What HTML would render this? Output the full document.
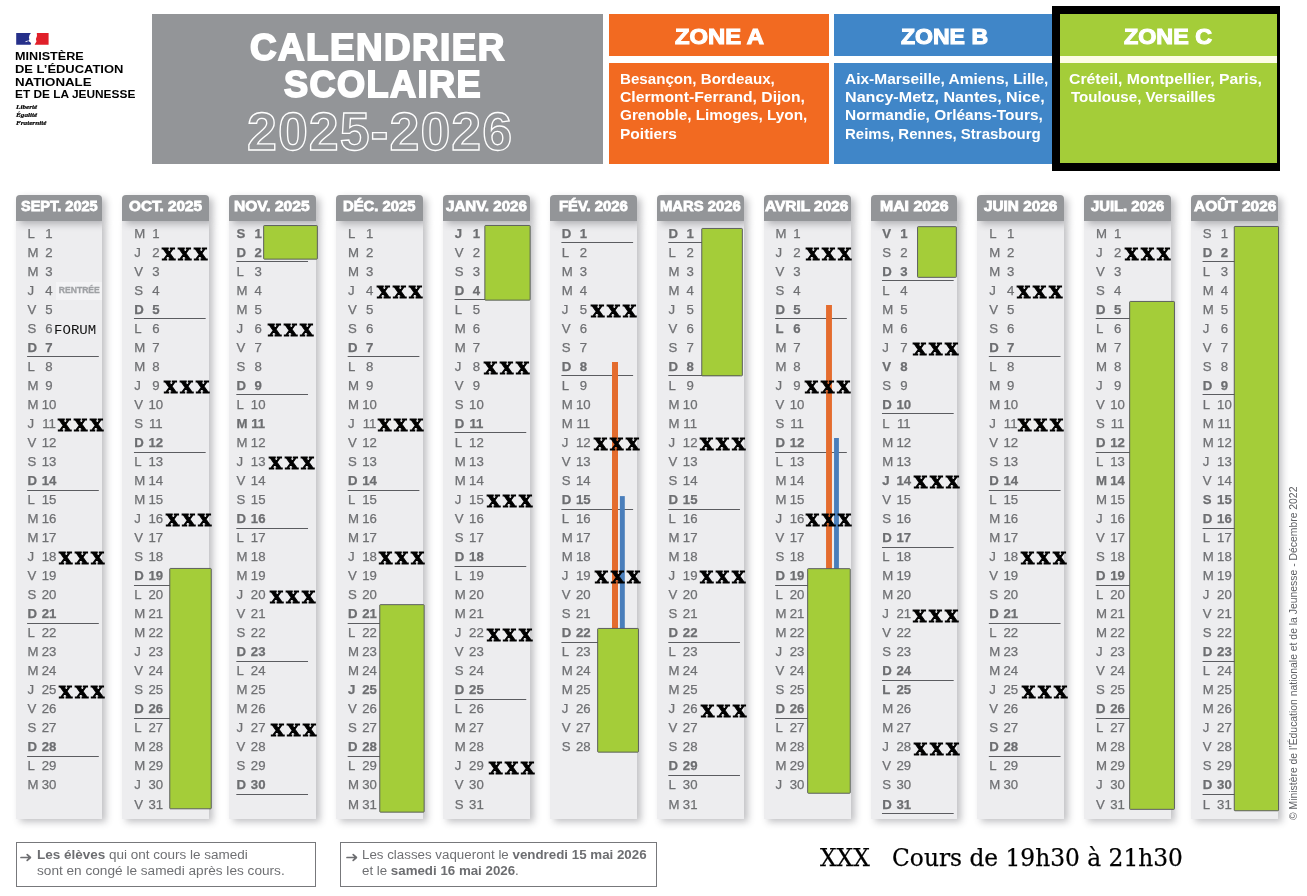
<!DOCTYPE html>
<html lang="fr"><head><meta charset="utf-8"><title>Calendrier scolaire 2025-2026</title>
<style>
html,body{margin:0;padding:0;background:#fff}
#page{position:relative;width:1307px;height:896px;overflow:hidden;background:#fff;font-family:"Liberation Sans",sans-serif}
#page *{box-sizing:border-box}
.abs,.t{position:absolute}
.t{white-space:pre;line-height:1;transform-origin:0 0;margin:0;padding:0}
.logo{font-weight:700;font-size:11.6px;color:#000}
.motto{font-family:"Liberation Serif",serif;font-style:italic;font-weight:700;color:#000;-webkit-text-stroke:.2px #000}
.title{left:152px;top:14px;width:451px;height:149.8px;background:#939598}
.ttl{font-weight:700;color:#fff;-webkit-text-stroke:1.9px #fff;letter-spacing:1.5px}
.yr{font-weight:700;color:transparent;-webkit-text-stroke:1.3px #fff;letter-spacing:1px}
.zh{font-weight:700;color:#fff;-webkit-text-stroke:1.1px #fff;font-size:22.3px}
.zb{font-weight:700;color:#fff;font-size:14.4px}
.col{position:absolute;top:0;width:86.3px;height:896px}
.hd{position:absolute;left:0;top:195px;width:86px;height:26px;background:#939598;border-radius:4px 4px 0 0;box-shadow:4px 3px 7px rgba(50,50,60,.32);z-index:2}
.bd{position:absolute;left:0;top:221px;width:86px;height:598px;background:#ededef;box-shadow:4px 3px 7px rgba(50,50,60,.3);z-index:1}
.hl{position:absolute;z-index:3;font-weight:700;color:#fff;-webkit-text-stroke:.8px #fff;font-size:13.9px;white-space:pre;line-height:1;transform-origin:0 0}
.rows{position:absolute;top:0;width:86px;height:0;z-index:3}
.r{position:absolute;left:0;width:86.3px;height:19px;z-index:3;color:#6f7073;font-size:13.2px;line-height:19px;-webkit-text-stroke:.25px #6f7073}
.r b,.r i{position:absolute;top:0;font-style:normal;font-weight:400;white-space:pre}
.r b{left:11.8px}
.r i{left:23.4px;width:20px;text-align:center}
.r.h b,.r.h i{font-weight:700;color:#6d6e71}
.nv .r{margin-left:-4.5px}
.x{position:absolute;z-index:6;font-family:"DejaVu Serif",serif;font-weight:700;color:#000;white-space:pre;line-height:1;transform-origin:0 0;-webkit-text-stroke:.9px #000}
.note{position:absolute;top:842.25px;height:44.5px;border:1px solid #77787b;background:#fff}
.nt{font-size:12.3px;color:#6f7073}
.nt strong{font-weight:700;color:#6d6e71}
.leg{font-family:"DejaVu Serif",serif;color:#000;-webkit-text-stroke:.25px #000}
.cp{font-size:10.4px;color:#5e5f63;transform-origin:0 0}

</style></head><body><div id="page">
<svg class="abs" style="left:15.5px;top:33.2px" width="33" height="11.8" viewBox="0 0 33 11.8"><path d="M0.2 0 H14.9 L13.5 1.9 L12.9 4.4 L13.4 6.4 L12.2 7.9 L14 8.9 L15.1 10.2 L14.6 11.7 H0.2 Z" fill="#26308a"/><path d="M9.2 8.6 L11.6 7.5 L12 8.2 L9.8 9.2 Z" fill="#e8e9f4"/><path d="M20.8 0 H32.6 V11.7 H18.6 L20.5 8.6 L19.9 6 L21 3 Z" fill="#e01f29"/></svg>
<div class="t logo" style="left:14.78px;top:50.38px;font-size:11.6px;transform:scale(1.0887,1);">MINISTÈRE</div>
<div class="t logo" style="left:14.76px;top:63.08px;font-size:11.6px;transform:scale(1.1168,1);">DE L’ÉDUCATION</div>
<div class="t logo" style="left:14.73px;top:75.78px;font-size:11.6px;transform:scale(1.1477,1);">NATIONALE</div>
<div class="t logo" style="left:14.83px;top:88.48px;font-size:11.6px;transform:scale(1.0241,1);">ET DE LA JEUNESSE</div>
<div class="t motto" style="left:16px;top:104.86px;font-size:5.9px;transform:scale(1.22,1);">Liberté</div>
<div class="t motto" style="left:16px;top:112.96px;font-size:5.9px;transform:scale(1.22,1);">Égalité</div>
<div class="t motto" style="left:16px;top:121.06px;font-size:5.9px;transform:scale(1.22,1);">Fraternité</div>
<div class="abs title"></div>
<h1 class="t ttl" style="left:249.77px;top:28.77px;font-size:37.6px;transform:scale(0.9785,1);">CALENDRIER</h1>
<div class="t ttl" style="left:283.75px;top:65.77px;font-size:37.6px;transform:scale(0.9609,1);">SCOLAIRE</div>
<div class="t yr" style="left:246.73px;top:105.17px;font-size:53.2px;transform:scale(1.0104,1);">2025-2026</div>
<div class="abs" style="left:609px;top:14px;width:220px;height:41.7px;background:#f26a21"></div>
<div class="abs" style="left:609px;top:63px;width:220px;height:100.8px;background:#f26a21"></div>
<div class="abs" style="left:834px;top:14px;width:219px;height:41.7px;background:#4086c8"></div>
<div class="abs" style="left:834px;top:63px;width:219px;height:100.8px;background:#4086c8"></div>
<div class="abs" style="left:1052px;top:6px;width:228px;height:165px;background:#000"></div>
<div class="abs" style="left:1060px;top:14px;width:217px;height:149px;background:#fdfde6"></div>
<div class="abs" style="left:1060px;top:14px;width:217px;height:41.7px;background:#a4cd39"></div>
<div class="abs" style="left:1060px;top:63px;width:217px;height:100px;background:#a4cd39"></div>
<h2 class="t zh" style="left:674.75px;top:25.59px;font-size:22.1px;transform:scale(1.0774,1);">ZONE A</h2>
<h2 class="t zh" style="left:900.77px;top:25.59px;font-size:22.1px;transform:scale(1.0426,1);">ZONE B</h2>
<h2 class="t zh" style="left:1124.22px;top:25.59px;font-size:22.1px;transform:scale(1.0536,1);">ZONE C</h2>
<div class="t zb" style="left:620.21px;top:71.56px;font-size:14.4px;transform:scale(1.0517,1);">Besançon, Bordeaux,</div>
<div class="t zb" style="left:620.18px;top:89.98px;font-size:14.4px;transform:scale(1.0908,1);">Clermont-Ferrand, Dijon,</div>
<div class="t zb" style="left:620.2px;top:108.4px;font-size:14.4px;transform:scale(1.0632,1);">Grenoble, Limoges, Lyon,</div>
<div class="t zb" style="left:620.19px;top:126.82px;font-size:14.4px;transform:scale(1.0784,1);">Poitiers</div>
<div class="t zb" style="left:845.19px;top:71.56px;font-size:14.4px;transform:scale(1.0762,1);">Aix-Marseille, Amiens, Lille,</div>
<div class="t zb" style="left:845.16px;top:89.98px;font-size:14.4px;transform:scale(1.1193,1);">Nancy-Metz, Nantes, Nice,</div>
<div class="t zb" style="left:845.2px;top:108.4px;font-size:14.4px;transform:scale(1.0724,1);">Normandie, Orléans-Tours,</div>
<div class="t zb" style="left:845.22px;top:126.82px;font-size:14.4px;transform:scale(1.0417,1);">Reims, Rennes, Strasbourg</div>
<div class="t zb" style="left:1069.38px;top:71.56px;font-size:14.4px;transform:scale(1.0963,1);">Créteil, Montpellier, Paris,</div>
<div class="t zb" style="left:1070.64px;top:89.98px;font-size:14.4px;transform:scale(1.0515,1);">Toulouse, Versailles</div>
<section class="col" style="left:16px">
<div class="hd" style="width:86px"></div><div class="bd" style="width:86px"></div>
<h3 class="hl" style="left:4.9px;top:200.43px;margin:0;transform:scaleX(1.0445)">SEPT. 2025</h3>
<div class="rows" style="left:-0.4px">
<div class="r" style="top:223.55px"><b>L</b><i>1</i></div>
<div class="r" style="top:242.58px"><b>M</b><i>2</i></div>
<div class="r" style="top:261.61px"><b>M</b><i>3</i></div>
<div class="r" style="top:280.65px"><b>J</b><i>4</i></div>
<div class="r" style="top:299.68px"><b>V</b><i>5</i></div>
<div class="r" style="top:318.71px"><b>S</b><i>6</i></div>
<div class="r h" style="top:337.74px"><b>D</b><i>7</i></div>
<div class="r" style="top:356.77px"><b>L</b><i>8</i></div>
<div class="r" style="top:375.81px"><b>M</b><i>9</i></div>
<div class="r" style="top:394.84px"><b>M</b><i>10</i></div>
<div class="r" style="top:413.87px"><b>J</b><i>11</i></div>
<div class="r" style="top:432.9px"><b>V</b><i>12</i></div>
<div class="r" style="top:451.93px"><b>S</b><i>13</i></div>
<div class="r h" style="top:470.97px"><b>D</b><i>14</i></div>
<div class="r" style="top:490px"><b>L</b><i>15</i></div>
<div class="r" style="top:509.03px"><b>M</b><i>16</i></div>
<div class="r" style="top:528.06px"><b>M</b><i>17</i></div>
<div class="r" style="top:547.09px"><b>J</b><i>18</i></div>
<div class="r" style="top:566.13px"><b>V</b><i>19</i></div>
<div class="r" style="top:585.16px"><b>S</b><i>20</i></div>
<div class="r h" style="top:604.19px"><b>D</b><i>21</i></div>
<div class="r" style="top:623.22px"><b>L</b><i>22</i></div>
<div class="r" style="top:642.25px"><b>M</b><i>23</i></div>
<div class="r" style="top:661.29px"><b>M</b><i>24</i></div>
<div class="r" style="top:680.32px"><b>J</b><i>25</i></div>
<div class="r" style="top:699.35px"><b>V</b><i>26</i></div>
<div class="r" style="top:718.38px"><b>S</b><i>27</i></div>
<div class="r h" style="top:737.41px"><b>D</b><i>28</i></div>
<div class="r" style="top:756.45px"><b>L</b><i>29</i></div>
<div class="r" style="top:775.48px"><b>M</b><i>30</i></div>
</div></section>
<section class="col" style="left:122px">
<div class="hd" style="width:87px"></div><div class="bd" style="width:87px"></div>
<h3 class="hl" style="left:6.73px;top:200.43px;margin:0;transform:scaleX(1.1009)">OCT. 2025</h3>
<div class="rows" style="left:0.46px">
<div class="r" style="top:223.55px"><b>M</b><i>1</i></div>
<div class="r" style="top:242.58px"><b>J</b><i>2</i></div>
<div class="r" style="top:261.61px"><b>V</b><i>3</i></div>
<div class="r" style="top:280.65px"><b>S</b><i>4</i></div>
<div class="r h" style="top:299.68px"><b>D</b><i>5</i></div>
<div class="r" style="top:318.71px"><b>L</b><i>6</i></div>
<div class="r" style="top:337.74px"><b>M</b><i>7</i></div>
<div class="r" style="top:356.77px"><b>M</b><i>8</i></div>
<div class="r" style="top:375.81px"><b>J</b><i>9</i></div>
<div class="r" style="top:394.84px"><b>V</b><i>10</i></div>
<div class="r" style="top:413.87px"><b>S</b><i>11</i></div>
<div class="r h" style="top:432.9px"><b>D</b><i>12</i></div>
<div class="r" style="top:451.93px"><b>L</b><i>13</i></div>
<div class="r" style="top:470.97px"><b>M</b><i>14</i></div>
<div class="r" style="top:490px"><b>M</b><i>15</i></div>
<div class="r" style="top:509.03px"><b>J</b><i>16</i></div>
<div class="r" style="top:528.06px"><b>V</b><i>17</i></div>
<div class="r" style="top:547.09px"><b>S</b><i>18</i></div>
<div class="r h" style="top:566.13px"><b>D</b><i>19</i></div>
<div class="r" style="top:585.16px"><b>L</b><i>20</i></div>
<div class="r" style="top:604.19px"><b>M</b><i>21</i></div>
<div class="r" style="top:623.22px"><b>M</b><i>22</i></div>
<div class="r" style="top:642.25px"><b>J</b><i>23</i></div>
<div class="r" style="top:661.29px"><b>V</b><i>24</i></div>
<div class="r" style="top:680.32px"><b>S</b><i>25</i></div>
<div class="r h" style="top:699.35px"><b>D</b><i>26</i></div>
<div class="r" style="top:718.38px"><b>L</b><i>27</i></div>
<div class="r" style="top:737.41px"><b>M</b><i>28</i></div>
<div class="r" style="top:756.45px"><b>M</b><i>29</i></div>
<div class="r" style="top:775.48px"><b>J</b><i>30</i></div>
<div class="r" style="top:794.51px"><b>V</b><i>31</i></div>
</div></section>
<section class="col nv" style="left:229px">
<div class="hd" style="width:87px"></div><div class="bd" style="width:87px"></div>
<h3 class="hl" style="left:5.19px;top:200.43px;margin:0;transform:scaleX(1.12)">NOV. 2025</h3>
<div class="rows" style="left:0.32px">
<div class="r h" style="top:223.55px"><b>S</b><i>1</i></div>
<div class="r h" style="top:242.58px"><b>D</b><i>2</i></div>
<div class="r" style="top:261.61px"><b>L</b><i>3</i></div>
<div class="r" style="top:280.65px"><b>M</b><i>4</i></div>
<div class="r" style="top:299.68px"><b>M</b><i>5</i></div>
<div class="r" style="top:318.71px"><b>J</b><i>6</i></div>
<div class="r" style="top:337.74px"><b>V</b><i>7</i></div>
<div class="r" style="top:356.77px"><b>S</b><i>8</i></div>
<div class="r h" style="top:375.81px"><b>D</b><i>9</i></div>
<div class="r" style="top:394.84px"><b>L</b><i>10</i></div>
<div class="r h" style="top:413.87px"><b>M</b><i>11</i></div>
<div class="r" style="top:432.9px"><b>M</b><i>12</i></div>
<div class="r" style="top:451.93px"><b>J</b><i>13</i></div>
<div class="r" style="top:470.97px"><b>V</b><i>14</i></div>
<div class="r" style="top:490px"><b>S</b><i>15</i></div>
<div class="r h" style="top:509.03px"><b>D</b><i>16</i></div>
<div class="r" style="top:528.06px"><b>L</b><i>17</i></div>
<div class="r" style="top:547.09px"><b>M</b><i>18</i></div>
<div class="r" style="top:566.13px"><b>M</b><i>19</i></div>
<div class="r" style="top:585.16px"><b>J</b><i>20</i></div>
<div class="r" style="top:604.19px"><b>V</b><i>21</i></div>
<div class="r" style="top:623.22px"><b>S</b><i>22</i></div>
<div class="r h" style="top:642.25px"><b>D</b><i>23</i></div>
<div class="r" style="top:661.29px"><b>L</b><i>24</i></div>
<div class="r" style="top:680.32px"><b>M</b><i>25</i></div>
<div class="r" style="top:699.35px"><b>M</b><i>26</i></div>
<div class="r" style="top:718.38px"><b>J</b><i>27</i></div>
<div class="r" style="top:737.41px"><b>V</b><i>28</i></div>
<div class="r" style="top:756.45px"><b>S</b><i>29</i></div>
<div class="r h" style="top:775.48px"><b>D</b><i>30</i></div>
</div></section>
<section class="col" style="left:336px">
<div class="hd" style="width:87px"></div><div class="bd" style="width:87px"></div>
<h3 class="hl" style="left:7.44px;top:200.43px;margin:0;transform:scaleX(1.0653)">DÉC. 2025</h3>
<div class="rows" style="left:0.18px">
<div class="r" style="top:223.55px"><b>L</b><i>1</i></div>
<div class="r" style="top:242.58px"><b>M</b><i>2</i></div>
<div class="r" style="top:261.61px"><b>M</b><i>3</i></div>
<div class="r" style="top:280.65px"><b>J</b><i>4</i></div>
<div class="r" style="top:299.68px"><b>V</b><i>5</i></div>
<div class="r" style="top:318.71px"><b>S</b><i>6</i></div>
<div class="r h" style="top:337.74px"><b>D</b><i>7</i></div>
<div class="r" style="top:356.77px"><b>L</b><i>8</i></div>
<div class="r" style="top:375.81px"><b>M</b><i>9</i></div>
<div class="r" style="top:394.84px"><b>M</b><i>10</i></div>
<div class="r" style="top:413.87px"><b>J</b><i>11</i></div>
<div class="r" style="top:432.9px"><b>V</b><i>12</i></div>
<div class="r" style="top:451.93px"><b>S</b><i>13</i></div>
<div class="r h" style="top:470.97px"><b>D</b><i>14</i></div>
<div class="r" style="top:490px"><b>L</b><i>15</i></div>
<div class="r" style="top:509.03px"><b>M</b><i>16</i></div>
<div class="r" style="top:528.06px"><b>M</b><i>17</i></div>
<div class="r" style="top:547.09px"><b>J</b><i>18</i></div>
<div class="r" style="top:566.13px"><b>V</b><i>19</i></div>
<div class="r" style="top:585.16px"><b>S</b><i>20</i></div>
<div class="r h" style="top:604.19px"><b>D</b><i>21</i></div>
<div class="r" style="top:623.22px"><b>L</b><i>22</i></div>
<div class="r" style="top:642.25px"><b>M</b><i>23</i></div>
<div class="r" style="top:661.29px"><b>M</b><i>24</i></div>
<div class="r h" style="top:680.32px"><b>J</b><i>25</i></div>
<div class="r" style="top:699.35px"><b>V</b><i>26</i></div>
<div class="r" style="top:718.38px"><b>S</b><i>27</i></div>
<div class="r h" style="top:737.41px"><b>D</b><i>28</i></div>
<div class="r" style="top:756.45px"><b>L</b><i>29</i></div>
<div class="r" style="top:775.48px"><b>M</b><i>30</i></div>
<div class="r" style="top:794.51px"><b>M</b><i>31</i></div>
</div></section>
<section class="col" style="left:443px">
<div class="hd" style="width:87px"></div><div class="bd" style="width:87px"></div>
<h3 class="hl" style="left:3.32px;top:200.43px;margin:0;transform:scaleX(1.0862)">JANV. 2026</h3>
<div class="rows" style="left:0.04px">
<div class="r h" style="top:223.55px"><b>J</b><i>1</i></div>
<div class="r" style="top:242.58px"><b>V</b><i>2</i></div>
<div class="r" style="top:261.61px"><b>S</b><i>3</i></div>
<div class="r h" style="top:280.65px"><b>D</b><i>4</i></div>
<div class="r" style="top:299.68px"><b>L</b><i>5</i></div>
<div class="r" style="top:318.71px"><b>M</b><i>6</i></div>
<div class="r" style="top:337.74px"><b>M</b><i>7</i></div>
<div class="r" style="top:356.77px"><b>J</b><i>8</i></div>
<div class="r" style="top:375.81px"><b>V</b><i>9</i></div>
<div class="r" style="top:394.84px"><b>S</b><i>10</i></div>
<div class="r h" style="top:413.87px"><b>D</b><i>11</i></div>
<div class="r" style="top:432.9px"><b>L</b><i>12</i></div>
<div class="r" style="top:451.93px"><b>M</b><i>13</i></div>
<div class="r" style="top:470.97px"><b>M</b><i>14</i></div>
<div class="r" style="top:490px"><b>J</b><i>15</i></div>
<div class="r" style="top:509.03px"><b>V</b><i>16</i></div>
<div class="r" style="top:528.06px"><b>S</b><i>17</i></div>
<div class="r h" style="top:547.09px"><b>D</b><i>18</i></div>
<div class="r" style="top:566.13px"><b>L</b><i>19</i></div>
<div class="r" style="top:585.16px"><b>M</b><i>20</i></div>
<div class="r" style="top:604.19px"><b>M</b><i>21</i></div>
<div class="r" style="top:623.22px"><b>J</b><i>22</i></div>
<div class="r" style="top:642.25px"><b>V</b><i>23</i></div>
<div class="r" style="top:661.29px"><b>S</b><i>24</i></div>
<div class="r h" style="top:680.32px"><b>D</b><i>25</i></div>
<div class="r" style="top:699.35px"><b>L</b><i>26</i></div>
<div class="r" style="top:718.38px"><b>M</b><i>27</i></div>
<div class="r" style="top:737.41px"><b>M</b><i>28</i></div>
<div class="r" style="top:756.45px"><b>J</b><i>29</i></div>
<div class="r" style="top:775.48px"><b>V</b><i>30</i></div>
<div class="r" style="top:794.51px"><b>S</b><i>31</i></div>
</div></section>
<section class="col" style="left:550px">
<div class="hd" style="width:87px"></div><div class="bd" style="width:87px"></div>
<h3 class="hl" style="left:9.11px;top:200.43px;margin:0;transform:scaleX(1.0689)">FÉV. 2026</h3>
<div class="rows" style="left:-0.1px">
<div class="r h" style="top:223.55px"><b>D</b><i>1</i></div>
<div class="r" style="top:242.58px"><b>L</b><i>2</i></div>
<div class="r" style="top:261.61px"><b>M</b><i>3</i></div>
<div class="r" style="top:280.65px"><b>M</b><i>4</i></div>
<div class="r" style="top:299.68px"><b>J</b><i>5</i></div>
<div class="r" style="top:318.71px"><b>V</b><i>6</i></div>
<div class="r" style="top:337.74px"><b>S</b><i>7</i></div>
<div class="r h" style="top:356.77px"><b>D</b><i>8</i></div>
<div class="r" style="top:375.81px"><b>L</b><i>9</i></div>
<div class="r" style="top:394.84px"><b>M</b><i>10</i></div>
<div class="r" style="top:413.87px"><b>M</b><i>11</i></div>
<div class="r" style="top:432.9px"><b>J</b><i>12</i></div>
<div class="r" style="top:451.93px"><b>V</b><i>13</i></div>
<div class="r" style="top:470.97px"><b>S</b><i>14</i></div>
<div class="r h" style="top:490px"><b>D</b><i>15</i></div>
<div class="r" style="top:509.03px"><b>L</b><i>16</i></div>
<div class="r" style="top:528.06px"><b>M</b><i>17</i></div>
<div class="r" style="top:547.09px"><b>M</b><i>18</i></div>
<div class="r" style="top:566.13px"><b>J</b><i>19</i></div>
<div class="r" style="top:585.16px"><b>V</b><i>20</i></div>
<div class="r" style="top:604.19px"><b>S</b><i>21</i></div>
<div class="r h" style="top:623.22px"><b>D</b><i>22</i></div>
<div class="r" style="top:642.25px"><b>L</b><i>23</i></div>
<div class="r" style="top:661.29px"><b>M</b><i>24</i></div>
<div class="r" style="top:680.32px"><b>M</b><i>25</i></div>
<div class="r" style="top:699.35px"><b>J</b><i>26</i></div>
<div class="r" style="top:718.38px"><b>V</b><i>27</i></div>
<div class="r" style="top:737.41px"><b>S</b><i>28</i></div>
</div></section>
<section class="col" style="left:657px">
<div class="hd" style="width:87px"></div><div class="bd" style="width:87px"></div>
<h3 class="hl" style="left:3.47px;top:200.43px;margin:0;transform:scaleX(1.066)">MARS 2026</h3>
<div class="rows" style="left:-0.24px">
<div class="r h" style="top:223.55px"><b>D</b><i>1</i></div>
<div class="r" style="top:242.58px"><b>L</b><i>2</i></div>
<div class="r" style="top:261.61px"><b>M</b><i>3</i></div>
<div class="r" style="top:280.65px"><b>M</b><i>4</i></div>
<div class="r" style="top:299.68px"><b>J</b><i>5</i></div>
<div class="r" style="top:318.71px"><b>V</b><i>6</i></div>
<div class="r" style="top:337.74px"><b>S</b><i>7</i></div>
<div class="r h" style="top:356.77px"><b>D</b><i>8</i></div>
<div class="r" style="top:375.81px"><b>L</b><i>9</i></div>
<div class="r" style="top:394.84px"><b>M</b><i>10</i></div>
<div class="r" style="top:413.87px"><b>M</b><i>11</i></div>
<div class="r" style="top:432.9px"><b>J</b><i>12</i></div>
<div class="r" style="top:451.93px"><b>V</b><i>13</i></div>
<div class="r" style="top:470.97px"><b>S</b><i>14</i></div>
<div class="r h" style="top:490px"><b>D</b><i>15</i></div>
<div class="r" style="top:509.03px"><b>L</b><i>16</i></div>
<div class="r" style="top:528.06px"><b>M</b><i>17</i></div>
<div class="r" style="top:547.09px"><b>M</b><i>18</i></div>
<div class="r" style="top:566.13px"><b>J</b><i>19</i></div>
<div class="r" style="top:585.16px"><b>V</b><i>20</i></div>
<div class="r" style="top:604.19px"><b>S</b><i>21</i></div>
<div class="r h" style="top:623.22px"><b>D</b><i>22</i></div>
<div class="r" style="top:642.25px"><b>L</b><i>23</i></div>
<div class="r" style="top:661.29px"><b>M</b><i>24</i></div>
<div class="r" style="top:680.32px"><b>M</b><i>25</i></div>
<div class="r" style="top:699.35px"><b>J</b><i>26</i></div>
<div class="r" style="top:718.38px"><b>V</b><i>27</i></div>
<div class="r" style="top:737.41px"><b>S</b><i>28</i></div>
<div class="r h" style="top:756.45px"><b>D</b><i>29</i></div>
<div class="r" style="top:775.48px"><b>L</b><i>30</i></div>
<div class="r" style="top:794.51px"><b>M</b><i>31</i></div>
</div></section>
<section class="col" style="left:764px">
<div class="hd" style="width:87px"></div><div class="bd" style="width:87px"></div>
<h3 class="hl" style="left:1.34px;top:200.43px;margin:0;transform:scaleX(1.1102)">AVRIL 2026</h3>
<div class="rows" style="left:-0.38px">
<div class="r" style="top:223.55px"><b>M</b><i>1</i></div>
<div class="r" style="top:242.58px"><b>J</b><i>2</i></div>
<div class="r" style="top:261.61px"><b>V</b><i>3</i></div>
<div class="r" style="top:280.65px"><b>S</b><i>4</i></div>
<div class="r h" style="top:299.68px"><b>D</b><i>5</i></div>
<div class="r h" style="top:318.71px"><b>L</b><i>6</i></div>
<div class="r" style="top:337.74px"><b>M</b><i>7</i></div>
<div class="r" style="top:356.77px"><b>M</b><i>8</i></div>
<div class="r" style="top:375.81px"><b>J</b><i>9</i></div>
<div class="r" style="top:394.84px"><b>V</b><i>10</i></div>
<div class="r" style="top:413.87px"><b>S</b><i>11</i></div>
<div class="r h" style="top:432.9px"><b>D</b><i>12</i></div>
<div class="r" style="top:451.93px"><b>L</b><i>13</i></div>
<div class="r" style="top:470.97px"><b>M</b><i>14</i></div>
<div class="r" style="top:490px"><b>M</b><i>15</i></div>
<div class="r" style="top:509.03px"><b>J</b><i>16</i></div>
<div class="r" style="top:528.06px"><b>V</b><i>17</i></div>
<div class="r" style="top:547.09px"><b>S</b><i>18</i></div>
<div class="r h" style="top:566.13px"><b>D</b><i>19</i></div>
<div class="r" style="top:585.16px"><b>L</b><i>20</i></div>
<div class="r" style="top:604.19px"><b>M</b><i>21</i></div>
<div class="r" style="top:623.22px"><b>M</b><i>22</i></div>
<div class="r" style="top:642.25px"><b>J</b><i>23</i></div>
<div class="r" style="top:661.29px"><b>V</b><i>24</i></div>
<div class="r" style="top:680.32px"><b>S</b><i>25</i></div>
<div class="r h" style="top:699.35px"><b>D</b><i>26</i></div>
<div class="r" style="top:718.38px"><b>L</b><i>27</i></div>
<div class="r" style="top:737.41px"><b>M</b><i>28</i></div>
<div class="r" style="top:756.45px"><b>M</b><i>29</i></div>
<div class="r" style="top:775.48px"><b>J</b><i>30</i></div>
</div></section>
<section class="col" style="left:871px">
<div class="hd" style="width:86px"></div><div class="bd" style="width:86px"></div>
<h3 class="hl" style="left:8.91px;top:200.43px;margin:0;transform:scaleX(1.1387)">MAI 2026</h3>
<div class="rows" style="left:-0.52px">
<div class="r h" style="top:223.55px"><b>V</b><i>1</i></div>
<div class="r" style="top:242.58px"><b>S</b><i>2</i></div>
<div class="r h" style="top:261.61px"><b>D</b><i>3</i></div>
<div class="r" style="top:280.65px"><b>L</b><i>4</i></div>
<div class="r" style="top:299.68px"><b>M</b><i>5</i></div>
<div class="r" style="top:318.71px"><b>M</b><i>6</i></div>
<div class="r" style="top:337.74px"><b>J</b><i>7</i></div>
<div class="r h" style="top:356.77px"><b>V</b><i>8</i></div>
<div class="r" style="top:375.81px"><b>S</b><i>9</i></div>
<div class="r h" style="top:394.84px"><b>D</b><i>10</i></div>
<div class="r" style="top:413.87px"><b>L</b><i>11</i></div>
<div class="r" style="top:432.9px"><b>M</b><i>12</i></div>
<div class="r" style="top:451.93px"><b>M</b><i>13</i></div>
<div class="r h" style="top:470.97px"><b>J</b><i>14</i></div>
<div class="r" style="top:490px"><b>V</b><i>15</i></div>
<div class="r" style="top:509.03px"><b>S</b><i>16</i></div>
<div class="r h" style="top:528.06px"><b>D</b><i>17</i></div>
<div class="r" style="top:547.09px"><b>L</b><i>18</i></div>
<div class="r" style="top:566.13px"><b>M</b><i>19</i></div>
<div class="r" style="top:585.16px"><b>M</b><i>20</i></div>
<div class="r" style="top:604.19px"><b>J</b><i>21</i></div>
<div class="r" style="top:623.22px"><b>V</b><i>22</i></div>
<div class="r" style="top:642.25px"><b>S</b><i>23</i></div>
<div class="r h" style="top:661.29px"><b>D</b><i>24</i></div>
<div class="r h" style="top:680.32px"><b>L</b><i>25</i></div>
<div class="r" style="top:699.35px"><b>M</b><i>26</i></div>
<div class="r" style="top:718.38px"><b>M</b><i>27</i></div>
<div class="r" style="top:737.41px"><b>J</b><i>28</i></div>
<div class="r" style="top:756.45px"><b>V</b><i>29</i></div>
<div class="r" style="top:775.48px"><b>S</b><i>30</i></div>
<div class="r h" style="top:794.51px"><b>D</b><i>31</i></div>
</div></section>
<section class="col" style="left:977px">
<div class="hd" style="width:87px"></div><div class="bd" style="width:87px"></div>
<h3 class="hl" style="left:6.58px;top:200.43px;margin:0;transform:scaleX(1.1027)">JUIN 2026</h3>
<div class="rows" style="left:0.34px">
<div class="r" style="top:223.55px"><b>L</b><i>1</i></div>
<div class="r" style="top:242.58px"><b>M</b><i>2</i></div>
<div class="r" style="top:261.61px"><b>M</b><i>3</i></div>
<div class="r" style="top:280.65px"><b>J</b><i>4</i></div>
<div class="r" style="top:299.68px"><b>V</b><i>5</i></div>
<div class="r" style="top:318.71px"><b>S</b><i>6</i></div>
<div class="r h" style="top:337.74px"><b>D</b><i>7</i></div>
<div class="r" style="top:356.77px"><b>L</b><i>8</i></div>
<div class="r" style="top:375.81px"><b>M</b><i>9</i></div>
<div class="r" style="top:394.84px"><b>M</b><i>10</i></div>
<div class="r" style="top:413.87px"><b>J</b><i>11</i></div>
<div class="r" style="top:432.9px"><b>V</b><i>12</i></div>
<div class="r" style="top:451.93px"><b>S</b><i>13</i></div>
<div class="r h" style="top:470.97px"><b>D</b><i>14</i></div>
<div class="r" style="top:490px"><b>L</b><i>15</i></div>
<div class="r" style="top:509.03px"><b>M</b><i>16</i></div>
<div class="r" style="top:528.06px"><b>M</b><i>17</i></div>
<div class="r" style="top:547.09px"><b>J</b><i>18</i></div>
<div class="r" style="top:566.13px"><b>V</b><i>19</i></div>
<div class="r" style="top:585.16px"><b>S</b><i>20</i></div>
<div class="r h" style="top:604.19px"><b>D</b><i>21</i></div>
<div class="r" style="top:623.22px"><b>L</b><i>22</i></div>
<div class="r" style="top:642.25px"><b>M</b><i>23</i></div>
<div class="r" style="top:661.29px"><b>M</b><i>24</i></div>
<div class="r" style="top:680.32px"><b>J</b><i>25</i></div>
<div class="r" style="top:699.35px"><b>V</b><i>26</i></div>
<div class="r" style="top:718.38px"><b>S</b><i>27</i></div>
<div class="r h" style="top:737.41px"><b>D</b><i>28</i></div>
<div class="r" style="top:756.45px"><b>L</b><i>29</i></div>
<div class="r" style="top:775.48px"><b>M</b><i>30</i></div>
</div></section>
<section class="col" style="left:1084px">
<div class="hd" style="width:87px"></div><div class="bd" style="width:87px"></div>
<h3 class="hl" style="left:7.42px;top:200.43px;margin:0;transform:scaleX(1.0644)">JUIL. 2026</h3>
<div class="rows" style="left:0.2px">
<div class="r" style="top:223.55px"><b>M</b><i>1</i></div>
<div class="r" style="top:242.58px"><b>J</b><i>2</i></div>
<div class="r" style="top:261.61px"><b>V</b><i>3</i></div>
<div class="r" style="top:280.65px"><b>S</b><i>4</i></div>
<div class="r h" style="top:299.68px"><b>D</b><i>5</i></div>
<div class="r" style="top:318.71px"><b>L</b><i>6</i></div>
<div class="r" style="top:337.74px"><b>M</b><i>7</i></div>
<div class="r" style="top:356.77px"><b>M</b><i>8</i></div>
<div class="r" style="top:375.81px"><b>J</b><i>9</i></div>
<div class="r" style="top:394.84px"><b>V</b><i>10</i></div>
<div class="r" style="top:413.87px"><b>S</b><i>11</i></div>
<div class="r h" style="top:432.9px"><b>D</b><i>12</i></div>
<div class="r" style="top:451.93px"><b>L</b><i>13</i></div>
<div class="r h" style="top:470.97px"><b>M</b><i>14</i></div>
<div class="r" style="top:490px"><b>M</b><i>15</i></div>
<div class="r" style="top:509.03px"><b>J</b><i>16</i></div>
<div class="r" style="top:528.06px"><b>V</b><i>17</i></div>
<div class="r" style="top:547.09px"><b>S</b><i>18</i></div>
<div class="r h" style="top:566.13px"><b>D</b><i>19</i></div>
<div class="r" style="top:585.16px"><b>L</b><i>20</i></div>
<div class="r" style="top:604.19px"><b>M</b><i>21</i></div>
<div class="r" style="top:623.22px"><b>M</b><i>22</i></div>
<div class="r" style="top:642.25px"><b>J</b><i>23</i></div>
<div class="r" style="top:661.29px"><b>V</b><i>24</i></div>
<div class="r" style="top:680.32px"><b>S</b><i>25</i></div>
<div class="r h" style="top:699.35px"><b>D</b><i>26</i></div>
<div class="r" style="top:718.38px"><b>L</b><i>27</i></div>
<div class="r" style="top:737.41px"><b>M</b><i>28</i></div>
<div class="r" style="top:756.45px"><b>M</b><i>29</i></div>
<div class="r" style="top:775.48px"><b>J</b><i>30</i></div>
<div class="r" style="top:794.51px"><b>V</b><i>31</i></div>
</div></section>
<section class="col" style="left:1191px">
<div class="hd" style="width:87px"></div><div class="bd" style="width:87px"></div>
<h3 class="hl" style="left:3.29px;top:200.43px;margin:0;transform:scaleX(1.1102)">AOÛT 2026</h3>
<div class="rows" style="left:0.06px">
<div class="r" style="top:223.55px"><b>S</b><i>1</i></div>
<div class="r h" style="top:242.58px"><b>D</b><i>2</i></div>
<div class="r" style="top:261.61px"><b>L</b><i>3</i></div>
<div class="r" style="top:280.65px"><b>M</b><i>4</i></div>
<div class="r" style="top:299.68px"><b>M</b><i>5</i></div>
<div class="r" style="top:318.71px"><b>J</b><i>6</i></div>
<div class="r" style="top:337.74px"><b>V</b><i>7</i></div>
<div class="r" style="top:356.77px"><b>S</b><i>8</i></div>
<div class="r h" style="top:375.81px"><b>D</b><i>9</i></div>
<div class="r" style="top:394.84px"><b>L</b><i>10</i></div>
<div class="r" style="top:413.87px"><b>M</b><i>11</i></div>
<div class="r" style="top:432.9px"><b>M</b><i>12</i></div>
<div class="r" style="top:451.93px"><b>J</b><i>13</i></div>
<div class="r" style="top:470.97px"><b>V</b><i>14</i></div>
<div class="r h" style="top:490px"><b>S</b><i>15</i></div>
<div class="r h" style="top:509.03px"><b>D</b><i>16</i></div>
<div class="r" style="top:528.06px"><b>L</b><i>17</i></div>
<div class="r" style="top:547.09px"><b>M</b><i>18</i></div>
<div class="r" style="top:566.13px"><b>M</b><i>19</i></div>
<div class="r" style="top:585.16px"><b>J</b><i>20</i></div>
<div class="r" style="top:604.19px"><b>V</b><i>21</i></div>
<div class="r" style="top:623.22px"><b>S</b><i>22</i></div>
<div class="r h" style="top:642.25px"><b>D</b><i>23</i></div>
<div class="r" style="top:661.29px"><b>L</b><i>24</i></div>
<div class="r" style="top:680.32px"><b>M</b><i>25</i></div>
<div class="r" style="top:699.35px"><b>M</b><i>26</i></div>
<div class="r" style="top:718.38px"><b>J</b><i>27</i></div>
<div class="r" style="top:737.41px"><b>V</b><i>28</i></div>
<div class="r" style="top:756.45px"><b>S</b><i>29</i></div>
<div class="r h" style="top:775.48px"><b>D</b><i>30</i></div>
<div class="r" style="top:794.51px"><b>L</b><i>31</i></div>
</div></section>
<div class="abs" style="left:55.5px;top:282px;width:46.7px;height:18px;background:#f3f3f5;z-index:2"></div>
<div class="t sm" style="left:58.75px;top:286.47px;font-size:8.6px;font-weight:700;color:#9fa1a4;-webkit-text-stroke:.3px #9fa1a4;z-index:6;">RENTRÉE</div>
<div class="t sm" style="left:54.15px;top:323.63px;font-size:13.2px;transform:scale(1.0676,1);font-family:'Liberation Mono',monospace;color:#111;z-index:6;">FORUM</div>
<svg class="abs" style="left:0;top:0;z-index:4" width="1307" height="896" viewBox="0 0 1307 896">
<g fill="#5b5c60">
<rect x="27.1" y="356" width="71.7" height="1"/>
<rect x="27.1" y="490" width="71.7" height="1"/>
<rect x="27.1" y="623" width="71.7" height="1"/>
<rect x="27.1" y="756" width="71.7" height="1"/>
<rect x="133.96" y="318" width="71.7" height="1"/>
<rect x="133.96" y="452" width="71.7" height="1"/>
<rect x="133.96" y="585" width="71.7" height="1"/>
<rect x="133.96" y="718" width="71.7" height="1"/>
<rect x="236.32" y="261" width="71.7" height="1"/>
<rect x="236.32" y="394" width="71.7" height="1"/>
<rect x="236.32" y="528" width="71.7" height="1"/>
<rect x="236.32" y="661" width="71.7" height="1"/>
<rect x="236.32" y="794" width="71.7" height="1"/>
<rect x="347.68" y="356" width="71.7" height="1"/>
<rect x="347.68" y="490" width="71.7" height="1"/>
<rect x="347.68" y="623" width="71.7" height="1"/>
<rect x="347.68" y="756" width="71.7" height="1"/>
<rect x="454.54" y="299" width="71.7" height="1"/>
<rect x="454.54" y="432" width="71.7" height="1"/>
<rect x="454.54" y="566" width="71.7" height="1"/>
<rect x="454.54" y="699" width="71.7" height="1"/>
<rect x="561.4" y="242" width="71.7" height="1"/>
<rect x="561.4" y="375" width="71.7" height="1"/>
<rect x="561.4" y="509" width="71.7" height="1"/>
<rect x="561.4" y="642" width="71.7" height="1"/>
<rect x="668.26" y="242" width="71.7" height="1"/>
<rect x="668.26" y="375" width="71.7" height="1"/>
<rect x="668.26" y="509" width="71.7" height="1"/>
<rect x="668.26" y="642" width="71.7" height="1"/>
<rect x="668.26" y="775" width="71.7" height="1"/>
<rect x="775.12" y="318" width="71.7" height="1"/>
<rect x="775.12" y="452" width="71.7" height="1"/>
<rect x="775.12" y="585" width="71.7" height="1"/>
<rect x="775.12" y="718" width="71.7" height="1"/>
<rect x="881.98" y="280" width="71.7" height="1"/>
<rect x="881.98" y="413" width="71.7" height="1"/>
<rect x="881.98" y="547" width="71.7" height="1"/>
<rect x="881.98" y="680" width="71.7" height="1"/>
<rect x="881.98" y="813" width="71.7" height="1"/>
<rect x="988.84" y="356" width="71.7" height="1"/>
<rect x="988.84" y="490" width="71.7" height="1"/>
<rect x="988.84" y="623" width="71.7" height="1"/>
<rect x="988.84" y="756" width="71.7" height="1"/>
<rect x="1095.7" y="318" width="71.7" height="1"/>
<rect x="1095.7" y="452" width="71.7" height="1"/>
<rect x="1095.7" y="585" width="71.7" height="1"/>
<rect x="1095.7" y="718" width="71.7" height="1"/>
<rect x="1202.56" y="261" width="71.7" height="1"/>
<rect x="1202.56" y="394" width="71.7" height="1"/>
<rect x="1202.56" y="528" width="71.7" height="1"/>
<rect x="1202.56" y="661" width="71.7" height="1"/>
<rect x="1202.56" y="794" width="71.7" height="1"/>
</g>
<rect x="612" y="362" width="6" height="266.5" fill="#e46c2e"/>
<rect x="619.9" y="496.1" width="4.9" height="132.4" fill="#4a7ebb"/>
<rect x="826.05" y="305" width="5.9" height="263.75" fill="#e46c2e"/>
<rect x="834.05" y="438" width="4.85" height="130.75" fill="#4a7ebb"/>
<g fill="#a4cd39" stroke="#505158" stroke-width="0.9">
<rect x="169.75" y="568.45" width="41.5" height="240.35" rx="0.7"/>
<rect x="263.65" y="225.55" width="53.7" height="33.6" rx="0.7"/>
<rect x="379.75" y="604.65" width="44.4" height="207.5" rx="0.7"/>
<rect x="484.85" y="225.45" width="45.3" height="74.7" rx="0.7"/>
<rect x="597.65" y="628.45" width="40.8" height="123.7" rx="0.7"/>
<rect x="701.75" y="228.45" width="40.6" height="147.4" rx="0.7"/>
<rect x="807.65" y="568.65" width="42.6" height="224.6" rx="0.7"/>
<rect x="917.55" y="226.65" width="38.8" height="50.7" rx="0.7"/>
<rect x="1129.65" y="301.45" width="44.8" height="507.9" rx="0.7"/>
<rect x="1234.25" y="226.45" width="44.3" height="584.3" rx="0.7"/>
</g>
</svg>
<div class="x" style="left:58px;top:418.23px;font-size:15.9px;letter-spacing:2.5px;transform:scaleX(1.075)">XXX</div>
<div class="x" style="left:59.25px;top:551.46px;font-size:15.9px;letter-spacing:2.5px;transform:scaleX(1.075)">XXX</div>
<div class="x" style="left:59.25px;top:684.68px;font-size:15.9px;letter-spacing:2.5px;transform:scaleX(1.075)">XXX</div>
<div class="x" style="left:162px;top:246.94px;font-size:15.9px;letter-spacing:2.5px;transform:scaleX(1.075)">XXX</div>
<div class="x" style="left:163.75px;top:380.17px;font-size:15.9px;letter-spacing:2.5px;transform:scaleX(1.075)">XXX</div>
<div class="x" style="left:166.25px;top:513.39px;font-size:15.9px;letter-spacing:2.5px;transform:scaleX(1.075)">XXX</div>
<div class="x" style="left:268px;top:323.07px;font-size:15.9px;letter-spacing:2.5px;transform:scaleX(1.075)">XXX</div>
<div class="x" style="left:269.25px;top:456.3px;font-size:15.9px;letter-spacing:2.5px;transform:scaleX(1.075)">XXX</div>
<div class="x" style="left:270px;top:589.52px;font-size:15.9px;letter-spacing:2.5px;transform:scaleX(1.075)">XXX</div>
<div class="x" style="left:270.75px;top:722.74px;font-size:15.9px;letter-spacing:2.5px;transform:scaleX(1.075)">XXX</div>
<div class="x" style="left:377px;top:285.01px;font-size:15.9px;letter-spacing:2.5px;transform:scaleX(1.075)">XXX</div>
<div class="x" style="left:378.25px;top:418.23px;font-size:15.9px;letter-spacing:2.5px;transform:scaleX(1.075)">XXX</div>
<div class="x" style="left:379px;top:551.46px;font-size:15.9px;letter-spacing:2.5px;transform:scaleX(1.075)">XXX</div>
<div class="x" style="left:484px;top:361.14px;font-size:15.9px;letter-spacing:2.5px;transform:scaleX(1.075)">XXX</div>
<div class="x" style="left:487px;top:494.36px;font-size:15.9px;letter-spacing:2.5px;transform:scaleX(1.075)">XXX</div>
<div class="x" style="left:487px;top:627.58px;font-size:15.9px;letter-spacing:2.5px;transform:scaleX(1.075)">XXX</div>
<div class="x" style="left:489px;top:760.81px;font-size:15.9px;letter-spacing:2.5px;transform:scaleX(1.075)">XXX</div>
<div class="x" style="left:591.25px;top:304.04px;font-size:15.9px;letter-spacing:2.5px;transform:scaleX(1.075)">XXX</div>
<div class="x" style="left:593.75px;top:437.26px;font-size:15.9px;letter-spacing:2.5px;transform:scaleX(1.075)">XXX</div>
<div class="x" style="left:595px;top:570.49px;font-size:15.9px;letter-spacing:2.5px;transform:scaleX(1.075)">XXX</div>
<div class="x" style="left:699.75px;top:437.26px;font-size:15.9px;letter-spacing:2.5px;transform:scaleX(1.075)">XXX</div>
<div class="x" style="left:700.25px;top:570.49px;font-size:15.9px;letter-spacing:2.5px;transform:scaleX(1.075)">XXX</div>
<div class="x" style="left:701px;top:703.71px;font-size:15.9px;letter-spacing:2.5px;transform:scaleX(1.075)">XXX</div>
<div class="x" style="left:805.75px;top:246.94px;font-size:15.9px;letter-spacing:2.5px;transform:scaleX(1.075)">XXX</div>
<div class="x" style="left:804.75px;top:380.17px;font-size:15.9px;letter-spacing:2.5px;transform:scaleX(1.075)">XXX</div>
<div class="x" style="left:806px;top:513.39px;font-size:15.9px;letter-spacing:2.5px;transform:scaleX(1.075)">XXX</div>
<div class="x" style="left:912.75px;top:342.1px;font-size:15.9px;letter-spacing:2.5px;transform:scaleX(1.075)">XXX</div>
<div class="x" style="left:914px;top:475.33px;font-size:15.9px;letter-spacing:2.5px;transform:scaleX(1.075)">XXX</div>
<div class="x" style="left:912.75px;top:608.55px;font-size:15.9px;letter-spacing:2.5px;transform:scaleX(1.075)">XXX</div>
<div class="x" style="left:914px;top:741.78px;font-size:15.9px;letter-spacing:2.5px;transform:scaleX(1.075)">XXX</div>
<div class="x" style="left:1017px;top:285.01px;font-size:15.9px;letter-spacing:2.5px;transform:scaleX(1.075)">XXX</div>
<div class="x" style="left:1018px;top:418.23px;font-size:15.9px;letter-spacing:2.5px;transform:scaleX(1.075)">XXX</div>
<div class="x" style="left:1020.75px;top:551.46px;font-size:15.9px;letter-spacing:2.5px;transform:scaleX(1.075)">XXX</div>
<div class="x" style="left:1022px;top:684.68px;font-size:15.9px;letter-spacing:2.5px;transform:scaleX(1.075)">XXX</div>
<div class="x" style="left:1125px;top:246.94px;font-size:15.9px;letter-spacing:2.5px;transform:scaleX(1.075)">XXX</div>
<div class="note" style="left:15.5px;width:300px"></div>
<div class="note" style="left:340.25px;width:316.5px"></div>
<svg class="abs" style="left:20px;top:852.8px" width="12" height="9" viewBox="0 0 12 9"><path d="M1 4.5 H10 M7.2 1.6 L10.4 4.5 L7.2 7.4" fill="none" stroke="#6d6e71" stroke-width="1.7" stroke-linecap="round" stroke-linejoin="round"/></svg>
<svg class="abs" style="left:345.5px;top:852.8px" width="12" height="9" viewBox="0 0 12 9"><path d="M1 4.5 H10 M7.2 1.6 L10.4 4.5 L7.2 7.4" fill="none" stroke="#6d6e71" stroke-width="1.7" stroke-linecap="round" stroke-linejoin="round"/></svg>
<div class="t nt" style="left:37.2px;top:848.84px;font-size:12.3px;transform:scale(1.0969,1);"><strong>Les élèves</strong> qui ont cours le samedi</div>
<div class="t nt" style="left:36.95px;top:864.79px;font-size:12.3px;transform:scale(1.1081,1);">sont en congé le samedi après les cours.</div>
<div class="t nt" style="left:361.64px;top:848.84px;font-size:12.3px;transform:scale(1.0843,1);">Les classes vaqueront le <strong>vendredi 15 mai 2026</strong></div>
<div class="t nt" style="left:361.74px;top:864.79px;font-size:12.3px;transform:scale(1.0817,1);">et le <strong>samedi 16 mai 2026</strong>.</div>
<div class="t leg" style="left:820.25px;top:847.37px;font-size:23.4px;transform:scale(0.9965,1);">XXX   Cours de 19h30 à 21h30</div>
<div class="t cp" style="left:1288.8px;top:820px;transform:rotate(-90deg) scaleX(1)">© Ministère de l’Éducation nationale et de la Jeunesse - Décembre 2022</div>
</div></body></html>
